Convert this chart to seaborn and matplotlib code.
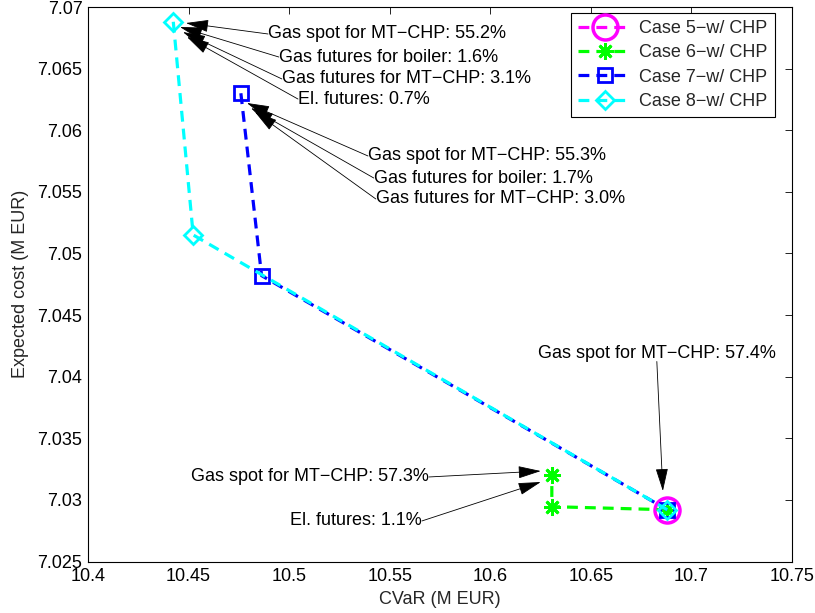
import seaborn as sns
import matplotlib.pyplot as plt
from matplotlib.ticker import MultipleLocator, FormatStrFormatter

# efficient frontier points
cvar_case5 = [10.688]
cost_case5 = [7.0292]
cvar_case6 = [10.688, 10.6306, 10.6306]
cost_case6 = [7.0292, 7.02945, 7.0320]
cvar_case7 = [10.476, 10.4863, 10.688]
cost_case7 = [7.0630, 7.0482, 7.0292]
cvar_case8 = [10.4424, 10.4523, 10.688]
cost_case8 = [7.0688, 7.0515, 7.0292]

case_labels = ["Case 5\u2212w/ CHP", "Case 6\u2212w/ CHP",
               "Case 7\u2212w/ CHP", "Case 8\u2212w/ CHP"]

# annotation texts with arrow tip (x, y) and text anchor (x, y)
note_texts = ["Gas spot for MT\u2212CHP: 55.2%", "Gas futures for boiler: 1.6%",
              "Gas futures for MT\u2212CHP: 3.1%", "El. futures: 0.7%",
              "Gas spot for MT\u2212CHP: 55.3%", "Gas futures for boiler: 1.7%",
              "Gas futures for MT\u2212CHP: 3.0%",
              "Gas spot for MT\u2212CHP: 57.3%", "El. futures: 1.1%",
              "Gas spot for MT\u2212CHP: 57.4%"]
tip_x = [10.4487, 10.4457, 10.4472, 10.4492,
         10.4790, 10.4810, 10.4830,
         10.6251, 10.6251, 10.6858]
tip_y = [7.06870, 7.06838, 7.06797, 7.06757,
         7.06221, 7.06180, 7.06148,
         7.03234, 7.03145, 7.03072]
text_x = [10.4895, 10.4949, 10.4964, 10.5044,
          10.5392, 10.5421, 10.5431,
          10.5695, 10.5660, 10.6828]
text_y = [7.06781, 7.06594, 7.06416, 7.06253,
          7.05791, 7.05612, 7.05442,
          7.03186, 7.02829, 7.04192]
text_side = ["left"] * 7 + ["right", "right", "center"]

sns.set_theme(style="white")
plt.rcParams["font.family"] = ["Liberation Sans", "DejaVu Sans"]
plt.rcParams["font.size"] = 13
plt.rcParams["axes.unicode_minus"] = True

fig = plt.figure(figsize=(8.15, 6.13), dpi=100)
ax = fig.add_axes([88 / 815, 51.5 / 613, 704 / 815, 554.5 / 613])

dash = (0, (3.4, 2.2))
series = [
    (cvar_case5, cost_case5, "#ff00ff", "o", 18, 2.5),
    (cvar_case6, cost_case6, "#00ff00", (8, 2, 0), 12, 2.0),
    (cvar_case7, cost_case7, "#0000ff", "s", 10.5, 2.0),
    (cvar_case8, cost_case8, "#00ffff", "D", 9, 2.0),
]
for (xs, ys, col, mk, ms, mw), lab in zip(series, case_labels):
    sns.lineplot(x=xs, y=ys, ax=ax, sort=False, estimator=None, color=col,
                 linewidth=2.3, linestyle=dash, marker=mk, markersize=ms,
                 markerfacecolor="none", markeredgecolor=col,
                 markeredgewidth=mw, label=lab)

for txt, tx, ty, px, py, side in zip(note_texts, tip_x, tip_y, text_x, text_y, text_side):
    rel = {"left": (0, 0.5), "right": (1, 0.5), "center": (0.5, 0)}[side]
    ax.annotate(txt, xy=(tx, ty), xytext=(px, py), ha=side, va="center",
                fontsize=13, color="black",
                arrowprops=dict(arrowstyle="-|>,head_length=1.1,head_width=0.3",
                                color="black", lw=0.6, relpos=rel,
                                shrinkA=0, shrinkB=0, patchA=None))

ax.set_xlim(10.4, 10.75)
ax.set_ylim(7.025, 7.07)
ax.xaxis.set_major_locator(MultipleLocator(0.05))
ax.yaxis.set_major_locator(MultipleLocator(0.005))
ax.xaxis.set_major_formatter(FormatStrFormatter("%g"))
ax.yaxis.set_major_formatter(FormatStrFormatter("%g"))
ax.tick_params(direction="in", length=5, width=0.6, colors="black",
               top=True, right=True, labelsize=13)
ax.tick_params(axis="x", pad=5)
ax.tick_params(axis="y", pad=4)
for sp in ax.spines.values():
    sp.set_color("black")
    sp.set_linewidth(0.8)

ax.set_xlabel("CVaR (M EUR)", fontsize=13, labelpad=4)
ax.set_ylabel("Expected cost (M EUR)", fontsize=13, labelpad=6)

leg = ax.legend(loc="upper right", bbox_to_anchor=(1 - 17 / 704, 1 - 6 / 554.5),
                borderaxespad=0, fancybox=False, framealpha=1, fontsize=13,
                handlelength=2.95, handletextpad=0.45, labelspacing=0.4,
                borderpad=0.4, numpoints=1)
leg.get_frame().set_edgecolor("black")
leg.get_frame().set_linewidth(0.8)

fig.savefig("out.png", dpi=100)
